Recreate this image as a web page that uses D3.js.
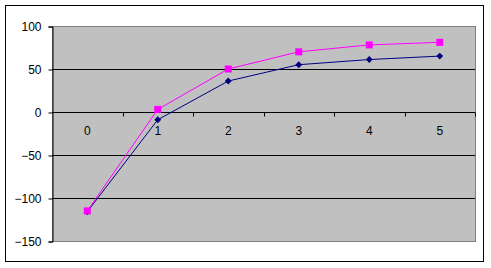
<!DOCTYPE html>
<html>
<head>
<meta charset="utf-8">
<script src="https://cdn.jsdelivr.net/npm/d3@7"></script>
<style>
  body { margin: 0; background: #fff; }
  svg { display: block; }
</style>
</head>
<body>
<svg id="chart" width="491" height="268"></svg>
<script>
// category labels and the two series
var categories = ["0", "1", "2", "3", "4", "5"];
var pinkSeries = [-115, 3, 50, 70, 78, 81];
var navySeries = [-116, -9, 36, 55, 61, 65];
var yTicks = [-150, -100, -50, 0, 50, 100];

var svg = d3.select("#chart");
var plot = {left: 52, top: 26, right: 475, bottom: 241};

// outer frame
svg.append("rect")
    .attr("x", 5.5).attr("y", 5.5)
    .attr("width", 478).attr("height", 256)
    .attr("fill", "#fff").attr("stroke", "#000");

var x = d3.scaleBand()
    .domain(categories)
    .range([plot.left, plot.right]);

var y = d3.scaleLinear()
    .domain([-150, 100])
    .range([plot.bottom, plot.top]);

// plot area
svg.append("rect")
    .attr("x", plot.left + 0.5).attr("y", plot.top + 0.5)
    .attr("width", plot.right - plot.left).attr("height", plot.bottom - plot.top)
    .attr("fill", "#c0c0c0").attr("stroke", "#808080");

// gridlines
svg.append("g").selectAll("line")
    .data(yTicks.filter(function (d) { return d > -150 && d < 100; }))
    .enter().append("line")
    .attr("x1", plot.left).attr("x2", plot.right)
    .attr("y1", function (d) { return Math.round(y(d)) + 0.5; })
    .attr("y2", function (d) { return Math.round(y(d)) + 0.5; })
    .attr("stroke", "#000");

// y axis
var yAxis = d3.axisLeft(y).tickValues(yTicks).tickSize(4).tickPadding(7);
var gy = svg.append("g")
    .attr("transform", "translate(" + (plot.left + 0.5) + ",0.5)")
    .call(yAxis);
gy.select(".domain").attr("stroke", "#000");
gy.selectAll(".tick line").attr("stroke", "#000");
gy.selectAll("text")
    .attr("font-family", "Liberation Sans, Arial, sans-serif")
    .attr("font-size", "12px")
    .attr("fill", "#000");

// category axis across y = 0, ticks between categories
var y0 = Math.round(y(0)) + 0.5;
var gx = svg.append("g");
gx.selectAll("line.tk")
    .data(categories)
    .enter().append("line")
    .attr("class", "tk")
    .attr("x1", function (d) { return Math.round(x(d) + x.bandwidth()) + 0.5; })
    .attr("x2", function (d) { return Math.round(x(d) + x.bandwidth()) + 0.5; })
    .attr("y1", y0).attr("y2", y0 + 4)
    .attr("stroke", "#000");
gx.selectAll("text")
    .data(categories)
    .enter().append("text")
    .attr("x", function (d) { return x(d) + x.bandwidth() / 2; })
    .attr("y", y0 + 22)
    .attr("text-anchor", "middle")
    .attr("font-family", "Liberation Sans, Arial, sans-serif")
    .attr("font-size", "12px")
    .attr("fill", "#000")
    .text(function (d) { return d; });

var cx = function (d, i) { return x(categories[i]) + x.bandwidth() / 2; };
var line = d3.line().x(cx).y(function (d) { return y(d); });

// navy series with diamonds
svg.append("path")
    .datum(navySeries)
    .attr("d", line)
    .attr("fill", "none").attr("stroke", "#000080").attr("stroke-width", 1);
svg.append("g").selectAll("path")
    .data(navySeries)
    .enter().append("path")
    .attr("d", d3.symbol().type(d3.symbolDiamond2).size(30))
    .attr("transform", function (d, i) { return "translate(" + cx(d, i) + "," + y(d) + ")"; })
    .attr("fill", "#000080");

// pink series with squares
svg.append("path")
    .datum(pinkSeries)
    .attr("d", line)
    .attr("fill", "none").attr("stroke", "#ff00ff").attr("stroke-width", 1);
svg.append("g").selectAll("rect")
    .data(pinkSeries)
    .enter().append("rect")
    .attr("x", function (d, i) { return cx(d, i) - 3.5; })
    .attr("y", function (d) { return y(d) - 3.5; })
    .attr("width", 7).attr("height", 7)
    .attr("fill", "#ff00ff");
</script>
</body>
</html>
